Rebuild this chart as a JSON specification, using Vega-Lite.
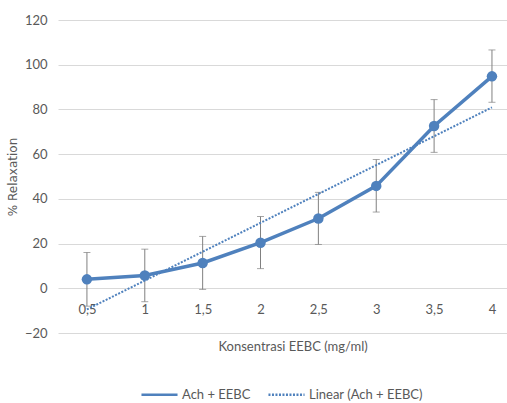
{
  "$schema": "https://vega.github.io/schema/vega-lite/v6.json",
  "autosize": {"type": "none"},
  "width": 449,
  "height": 313,
  "padding": {"left": 58, "top": 20, "right": 0, "bottom": 70},
  "background": "white",
  "config": {
    "view": {"stroke": null},
    "font": "Lato",
    "axis": {"labelFont": "Lato", "labelColor": "#595959", "titleColor": "#595959", "labelFontSize": 13, "titleFontWeight": "normal"}
  },
  "data": {
    "values": [
      {"x": 0.5, "y": 4.0, "lo": -8.0, "hi": 16.0, "s": "Ach + EEBC"},
      {"x": 1.0, "y": 5.7, "lo": -6.0, "hi": 17.5, "s": "Ach + EEBC"},
      {"x": 1.5, "y": 11.3, "lo": -0.5, "hi": 23.2, "s": "Ach + EEBC"},
      {"x": 2.0, "y": 20.4, "lo": 8.8, "hi": 32.1, "s": "Ach + EEBC"},
      {"x": 2.5, "y": 31.2, "lo": 19.6, "hi": 42.9, "s": "Ach + EEBC"},
      {"x": 3.0, "y": 45.8, "lo": 34.1, "hi": 57.6, "s": "Ach + EEBC"},
      {"x": 3.5, "y": 72.6, "lo": 60.8, "hi": 84.4, "s": "Ach + EEBC"},
      {"x": 4.0, "y": 94.8, "lo": 83.2, "hi": 106.6, "s": "Ach + EEBC"}
    ]
  },
  "layer": [
    {
      "mark": {"type": "errorbar", "color": "#808080", "thickness": 1, "ticks": {"size": 7, "color": "#808080", "thickness": 1}},
      "encoding": {
        "x": {"field": "x", "type": "quantitative", "scale": {"domain": [0.25, 4.13], "nice": false, "zero": false},
          "axis": {"values": [0.5, 1, 1.5, 2, 2.5, 3, 3.5, 4], "labelExpr": "replace(toString(datum.value), '.', ',')", "grid": false, "domain": false, "ticks": false, "offset": -44.7, "labelPadding": 15, "title": "Konsentrasi  EEBC (mg/ml)", "titleFontSize": 13, "titleFont": "Lato", "titlePadding": 24, "titleX": 160, "titleAnchor": "start"}},
        "y": {"field": "lo", "type": "quantitative", "scale": {"domain": [-20, 120], "nice": false},
          "axis": {"values": [-20, 0, 20, 40, 60, 80, 100, 120], "gridColor": "#d9d9d9", "domain": false, "ticks": false, "labelPadding": 11, "title": "% Relaxation", "titleFont": "DejaVu Sans", "titleFontSize": 12, "titlePadding": 5}},
        "y2": {"field": "hi"}
      }
    },
    {
      "transform": [{"regression": "y", "on": "x"}, {"calculate": "'Linear (Ach + EEBC)'", "as": "s"}],
      "mark": {"type": "line", "strokeWidth": 2, "color": "#4f81bd"},
      "encoding": {
        "x": {"field": "x", "type": "quantitative"},
        "y": {"field": "y", "type": "quantitative"},
        "strokeDash": {"field": "s", "type": "nominal", "scale": {"domain": ["Ach + EEBC", "Linear (Ach + EEBC)"], "range": [[1, 0], [2, 1.5]]},
          "legend": {"orient": "none", "legendX": 82, "legendY": 355, "direction": "horizontal", "title": null, "symbolType": "stroke", "symbolSize": 1300, "symbolStrokeWidth": 2.5, "symbolStrokeColor": "#4f81bd", "labelFontSize": 13, "labelColor": "#595959", "labelFont": "Lato", "labelOffset": 3, "columnPadding": 12}}
      }
    },
    {
      "mark": {"type": "line", "strokeWidth": 3.5, "color": "#4f81bd", "point": {"filled": true, "size": 110, "color": "#4f81bd"}},
      "encoding": {
        "x": {"field": "x", "type": "quantitative"},
        "y": {"field": "y", "type": "quantitative"}
      }
    }
  ]
}
